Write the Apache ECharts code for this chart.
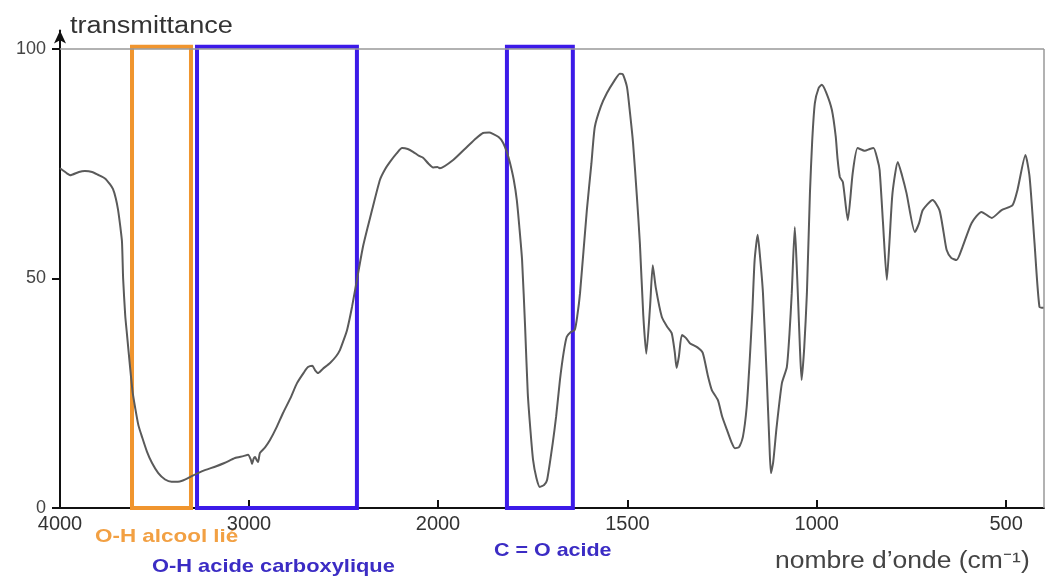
<!DOCTYPE html>
<html><head><meta charset="utf-8">
<script src="https://cdn.jsdelivr.net/npm/echarts@6/dist/echarts.min.js"></script>
<style>html,body{margin:0;padding:0;background:#fff}#c{width:1045px;height:579px}</style>
</head><body><div id="c"></div>
<script>
// wavenumber (cm-1) and transmittance (%)
const wavenumbers = [4000,3960,3947,3900,3868,3830,3799,3762,3735,3720,3705,3693,3680,3672,3666,3655,3646,3630,3615,3603,3585,3566,3540,3513,3480,3444,3410,3376,3350,3323,3300,3270,3230,3180,3130,3074,3030,3005,2990,2984,2975,2968,2960,2952,2942,2915,2889,2855,2820,2780,2746,2710,2688,2665,2650,2635,2610,2571,2540,2519,2500,2481,2455,2429,2397,2370,2349,2307,2280,2254,2220,2190,2160,2132,2100,2079,2050,2026,2000,
1995,1960,1923,1900,1881,1865,1855,1840,1829,1818,1810,1800,1792,1785,1778,1770,1763,1756,1749,1740,1731,1720,1712,1697,1688,1678,1668,1660,1650,1639,1632,1625,1607,1595,1586,1570,1554,1535,1520,1512,1501,1493,1485,1475,1467,1458,1450,1440,1433,1425,1409,1395,1383,1375,1370,1364,1356,1345,1335,1315,1301,1288,1277,1261,1250,1237,1225,1216,1205,1195,1185,1177,1170,1164,1156,1150,1142,1132,1125,1121,1115,1106,1092,1079,1072,1066,1058,1053,1050,1044,1040,1033,1026,1018,1012,1005,995,987,975,960,950,945,939,931,918,905,892,873,860,850,840,834,825,815,808,800,786,775,763,741,730,720,694,676,665,657,645,631,615,591,565,538,512,483,470,449,438,425,412,400];
const transmittance = [74,72.8,72.5,73.2,73.4,73.2,72.6,71.8,70.5,69.5,67.5,65,61,58,50,42,38,31,25,22,18,15.5,12.3,9.8,7.6,6.2,5.7,5.7,6,6.5,7,7.6,8.3,9,9.8,10.9,11.3,11.6,10.5,9.6,10.8,11.1,10.5,10,12,13.2,14.8,17.5,20.7,24,27.2,29.5,30.7,31,30,29.4,30.3,31.6,33,34.4,36.5,38.8,43.8,49.7,56.9,61.5,64.9,71.5,73.8,75.4,77.2,78.4,78.2,77.6,76.7,76.3,75,74.2,74.3,
74,75.8,78.7,80.5,81.7,81.8,81.5,80.8,79.7,77.5,75.2,71.5,67.1,61,54,39.4,25,17,10.5,6.5,4.6,5,6.1,14.2,20,27.9,34,37.3,38.3,38.8,42,46.8,64.9,75,83,87.5,90.4,93,94.6,94.5,91.7,86,79.5,68,57.7,42,33.6,44,52.9,48,41.6,39.5,38.1,34,30.5,33,37.7,37,35.9,35,33.8,29,25.7,23.5,20,17,14.3,13,13.3,15.5,22,32.2,43,54,59.5,55,46.8,28.5,14,7.6,10,17.6,27.2,30.7,38,46.8,61.2,53,46.8,34,27.9,35,46.8,68.6,80,88.2,91.5,92.2,90.5,86.7,81,76,72.1,71,62.7,73,78.4,77.8,78.2,78.4,76,73.6,62,49.7,58,68.6,75.4,72.5,68.6,60.1,62,64.9,67.1,64.9,60,56.2,54.5,54,56.9,62.1,64.5,63.2,64.9,66,69.3,76.9,72.1,57.7,43.8,43.6];
const xTicksLeft = [4000, 3000, 2000];
const xTicksRight = [1500, 1000, 500];
const yTicks = [0, 50, 100];
const bandNames = ['O-H alcool lié', 'O-H acide carboxylique', 'C = O acide'];
const bandFrom = [3619, 3275, 1818];
const bandTo = [3307, 2429, 1644];

const ORANGE = '#f0952e', BLUE = '#3c1ae8';
const bandColors = [ORANGE, BLUE, BLUE];
const textColors = ['#f2a043', '#3b2cc4', '#3b2cc4'];

const pairs = wavenumbers.map((w, i) => [w, transmittance[i]]);
const leftData = pairs.filter(p => p[0] >= 2000);
const rightData = pairs.filter(p => p[0] <= 2000);

function bandAreas(filterFn) {
  const out = [];
  bandNames.forEach((n, i) => {
    if (filterFn(bandFrom[i])) {
      out.push([
        { xAxis: bandFrom[i], yAxis: 0, itemStyle: { color: 'rgba(0,0,0,0)', borderColor: bandColors[i], borderWidth: 4 } },
        { xAxis: bandTo[i], yAxis: 100.5 }
      ]);
    }
  });
  return out;
}

const plain = v => String(v);
const lineStyle = { color: '#5a5a5a', width: 2 };
const topLine = {
  silent: true, symbol: 'none', label: { show: false },
  lineStyle: { color: '#999', width: 1.5, type: 'solid' },
  data: [{ yAxis: 100 }]
};

const chart = echarts.init(document.getElementById('c'), null, { renderer: 'canvas' });
chart.setOption({
  animation: false,
  backgroundColor: '#fff',
  grid: [
    { left: 60, top: 30.6, width: 378, height: 477.4 },
    { left: 438, top: 30.6, width: 606, height: 477.4 }
  ],
  xAxis: [
    {
      gridIndex: 0, type: 'value', min: 2000, max: 4000, interval: 1000, inverse: true,
      axisLine: { lineStyle: { color: '#111', width: 2 } },
      axisTick: { inside: true, length: 8, lineStyle: { color: '#111', width: 2 }, customValues: xTicksLeft },
      axisLabel: { customValues: xTicksLeft, formatter: plain, color: '#333', fontSize: 20, margin: 6, fontFamily: 'Liberation Sans, Arial, sans-serif' },
      splitLine: { show: false }
    },
    {
      gridIndex: 1, type: 'value', min: 400, max: 2000, inverse: true,
      axisLine: { lineStyle: { color: '#111', width: 2 } },
      axisTick: { inside: true, length: 8, lineStyle: { color: '#111', width: 2 }, customValues: xTicksRight },
      axisLabel: { customValues: xTicksRight, formatter: plain, color: '#333', fontSize: 20, margin: 6, fontFamily: 'Liberation Sans, Arial, sans-serif' },
      splitLine: { show: false }
    }
  ],
  yAxis: [
    {
      gridIndex: 0, type: 'value', min: 0, max: 104,
      axisLine: { show: true, symbol: ['none', 'arrow'], symbolSize: [9, 13], lineStyle: { color: '#111', width: 2 } },
      axisTick: { show: true, length: 8, lineStyle: { color: '#111', width: 2 }, customValues: yTicks },
      axisLabel: { customValues: yTicks, formatter: plain, color: '#444', fontSize: 18, margin: 14, fontFamily: 'Liberation Sans, Arial, sans-serif' },
      splitLine: { show: false }
    },
    {
      gridIndex: 1, type: 'value', min: 0, max: 104, show: false, splitLine: { show: false }
    }
  ],
  series: [
    {
      type: 'line', xAxisIndex: 0, yAxisIndex: 0, data: leftData, showSymbol: false, smooth: 0.2,
      lineStyle: lineStyle, z: 3,
      markLine: topLine,
      markArea: { silent: true, data: bandAreas(w => w >= 2000) }
    },
    {
      type: 'line', xAxisIndex: 1, yAxisIndex: 1, data: rightData, showSymbol: false, smooth: 0.2,
      lineStyle: lineStyle, z: 3,
      markLine: {
        silent: true, symbol: 'none', label: { show: false },
        lineStyle: { color: '#999', width: 1.5, type: 'solid' },
        data: [{ yAxis: 100 }, [{ coord: [400, 0] }, { coord: [400, 100] }]]
      },
      markArea: { silent: true, data: bandAreas(w => w < 2000) }
    }
  ],
  graphic: [
    { type: 'text', x: 70, y: 27, scaleX: 1.18, style: { text: 'transmittance', fill: '#333', font: '23px "Liberation Sans", Arial, sans-serif', textVerticalAlign: 'middle' } },
    { type: 'text', x: 775, y: 562, scaleX: 1.15, style: { text: 'nombre d’onde (cm⁻¹)', fill: '#444', font: '23px "Liberation Sans", Arial, sans-serif', textVerticalAlign: 'middle' } },
    { type: 'text', x: 95, y: 537, scaleX: 1.18, style: { text: bandNames[0], fill: textColors[0], font: 'bold 19px "Liberation Sans", Arial, sans-serif', textVerticalAlign: 'middle' } },
    { type: 'text', x: 152, y: 567, scaleX: 1.15, style: { text: bandNames[1], fill: textColors[1], font: 'bold 19px "Liberation Sans", Arial, sans-serif', textVerticalAlign: 'middle' } },
    { type: 'text', x: 494, y: 551, scaleX: 1.13, style: { text: bandNames[2], fill: textColors[2], font: 'bold 19px "Liberation Sans", Arial, sans-serif', textVerticalAlign: 'middle' } }
  ]
});
</script></body></html>
